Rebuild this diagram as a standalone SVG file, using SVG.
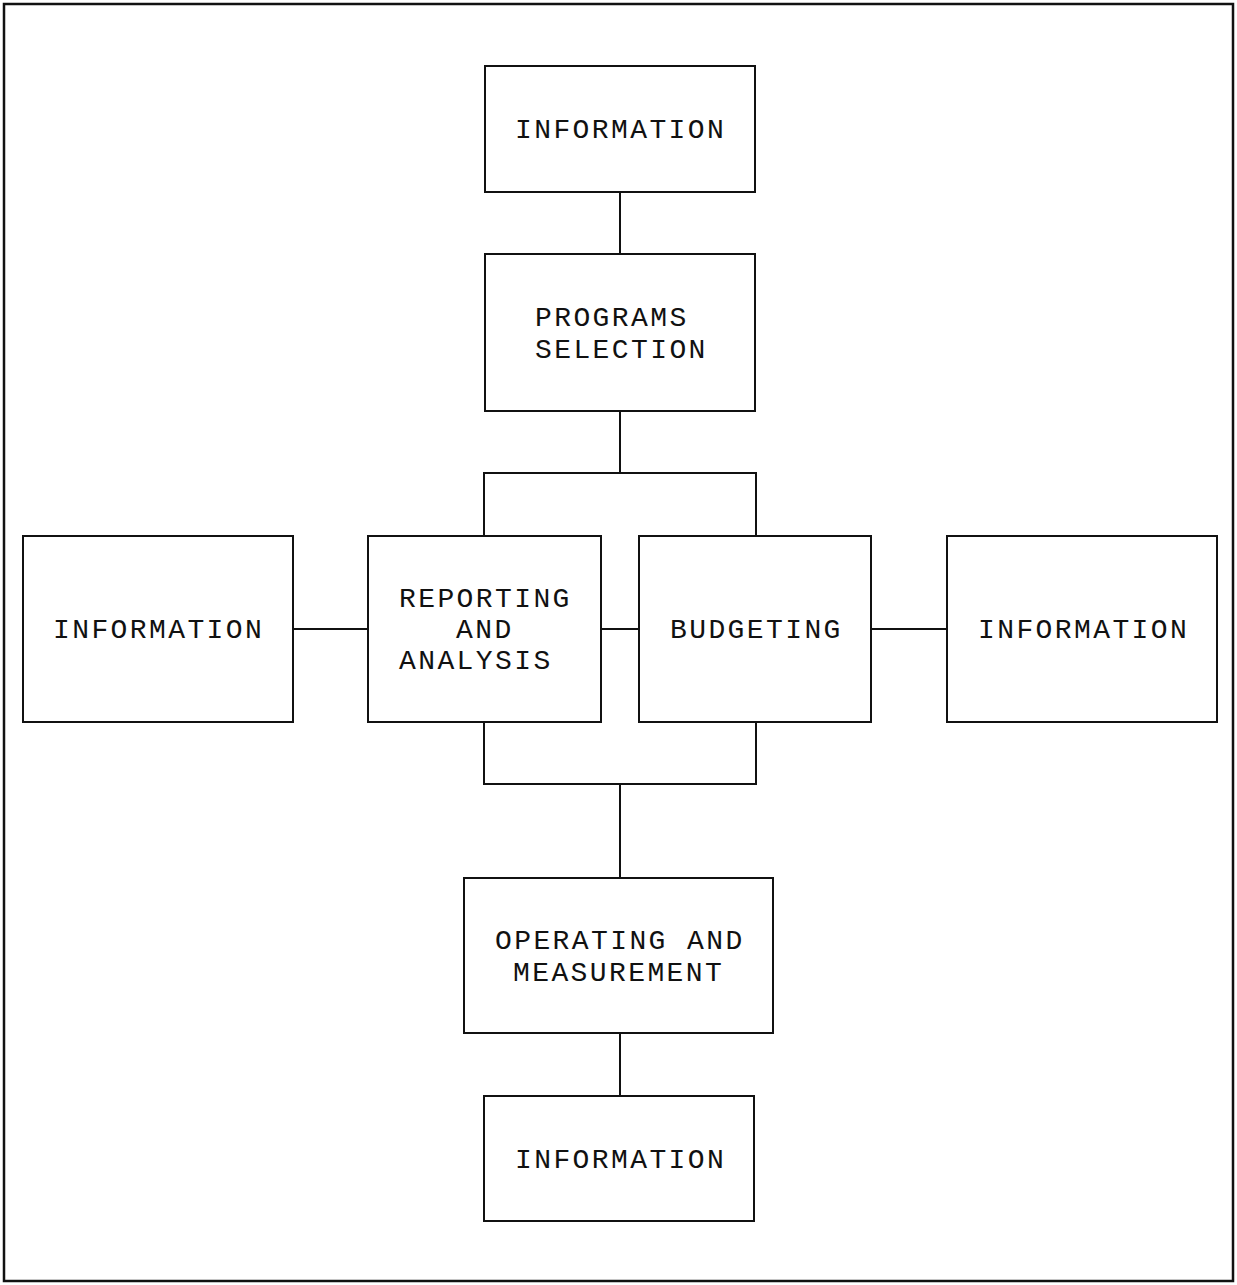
<svg xmlns="http://www.w3.org/2000/svg" width="1237" height="1285" viewBox="0 0 1237 1285">
<style>
.box{fill:#fff;stroke:#111;stroke-width:2}
.lbl{font-family:"Liberation Mono","Courier New",monospace;font-size:28px;letter-spacing:2.4px;fill:#111}
.conn{fill:none;stroke:#111;stroke-width:2}
</style>
<rect x="0" y="0" width="1237" height="1285" fill="#fff"/>
<rect x="4" y="4" width="1229" height="1277" fill="none" stroke="#111" stroke-width="2.5"/>
<g id="connectors">
<line class="conn" x1="620" y1="192" x2="620" y2="254"/>
<line class="conn" x1="620" y1="411" x2="620" y2="473"/>
<polyline class="conn" points="484,536 484,473 756,473 756,536"/>
<line class="conn" x1="293" y1="629" x2="368" y2="629"/>
<line class="conn" x1="601" y1="629" x2="639" y2="629"/>
<line class="conn" x1="871" y1="629" x2="947" y2="629"/>
<polyline class="conn" points="484,722 484,784 756,784 756,722"/>
<line class="conn" x1="620" y1="784" x2="620" y2="878"/>
<line class="conn" x1="620" y1="1033" x2="620" y2="1096"/>
</g>
<g id="info-top">
<rect class="box" x="485" y="66" width="270" height="126"/>
<text class="lbl" x="515" y="138">INFORMATION</text>
</g>
<g id="programs-selection">
<rect class="box" x="485" y="254" width="270" height="157"/>
<text class="lbl" x="535" y="326">PROGRAMS</text>
<text class="lbl" x="535" y="358">SELECTION</text>
</g>
<g id="info-left">
<rect class="box" x="23" y="536" width="270" height="186"/>
<text class="lbl" x="53" y="638">INFORMATION</text>
</g>
<g id="reporting-analysis">
<rect class="box" x="368" y="536" width="233" height="186"/>
<text class="lbl" x="399" y="607">REPORTING</text>
<text class="lbl" x="456" y="638">AND</text>
<text class="lbl" x="399" y="669">ANALYSIS</text>
</g>
<g id="budgeting">
<rect class="box" x="639" y="536" width="232" height="186"/>
<text class="lbl" x="670" y="638">BUDGETING</text>
</g>
<g id="info-right">
<rect class="box" x="947" y="536" width="270" height="186"/>
<text class="lbl" x="978" y="638">INFORMATION</text>
</g>
<g id="operating-measurement">
<rect class="box" x="464" y="878" width="309" height="155"/>
<text class="lbl" x="495" y="949">OPERATING AND</text>
<text class="lbl" x="513" y="981">MEASUREMENT</text>
</g>
<g id="info-bottom">
<rect class="box" x="484" y="1096" width="270" height="125"/>
<text class="lbl" x="515" y="1168">INFORMATION</text>
</g>
</svg>
